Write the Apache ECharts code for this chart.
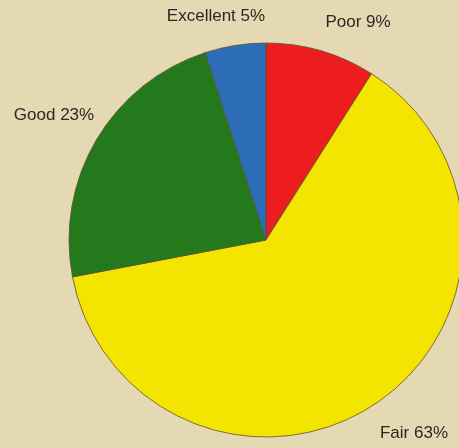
<!DOCTYPE html>
<html><head><meta charset="utf-8">
<script src="https://cdn.jsdelivr.net/npm/echarts@6/dist/echarts.min.js"></script>
<style>html,body{margin:0;padding:0;background:#e4d9b2;}#c{width:459px;height:448px;}</style>
</head><body><div id="c"></div>
<script>
const categories = ['Poor', 'Fair', 'Good', 'Excellent'];
const values = [9, 63, 23, 5];
const colors = ['#ec1c1f', '#f4e500', '#24791d', '#2b6db6'];
// label anchor positions (pixels)
const labelPos = [[358, 22], [414, 433], [54, 115], [216, 16]];

const chart = echarts.init(document.getElementById('c'));
chart.setOption({
  backgroundColor: '#e4d9b2',
  animation: false,
  series: [{
    type: 'pie',
    center: [266, 240],
    radius: 197,
    startAngle: 90,
    clockwise: true,
    data: categories.map((c, i) => ({ name: c, value: values[i], itemStyle: { color: colors[i] } })),
    itemStyle: { borderColor: '#5e5230', borderWidth: 0.8 },
    label: {
      show: true,
      position: 'outside',
      overflow: 'none',
      formatter: p => p.name + ' ' + p.value + '%',
      fontFamily: 'Liberation Sans, Arial, sans-serif',
      fontSize: 17,
      color: '#2a2826'
    },
    labelLine: { show: false },
    labelLayout: function (p) {
      const pos = labelPos[p.dataIndex];
      return { x: pos[0], y: pos[1], align: 'center', verticalAlign: 'middle', width: 140 };
    }
  }]
});
</script></body></html>
